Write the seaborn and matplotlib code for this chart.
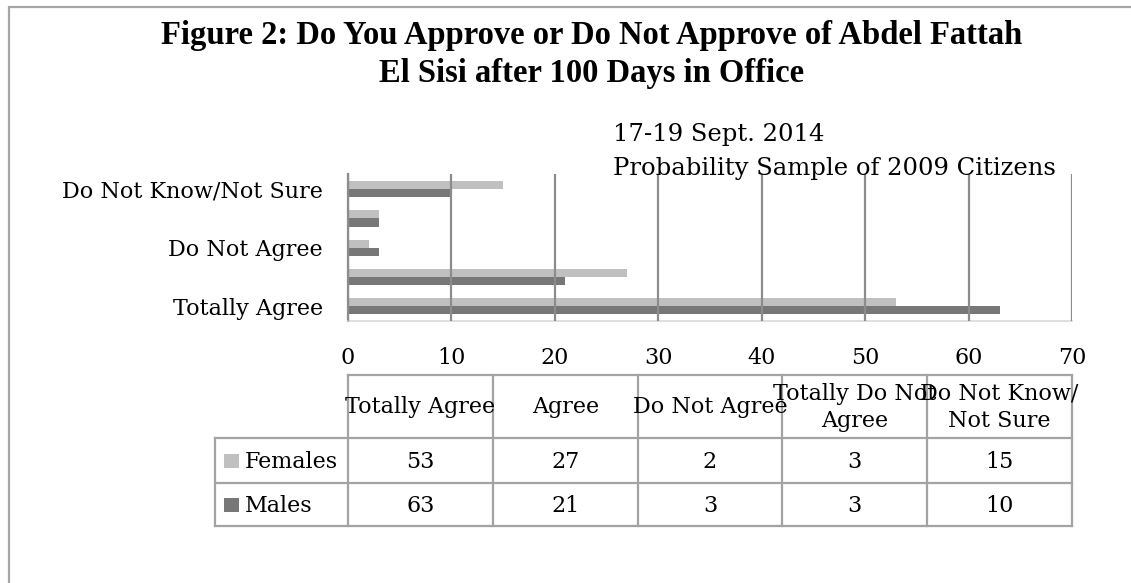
import matplotlib
matplotlib.use("Agg")
import matplotlib.pyplot as plt
import seaborn as sns
import pandas as pd
from matplotlib.lines import Line2D
from matplotlib.patches import Rectangle

# ---------------- data ----------------
categories = ["Totally Agree", "Agree", "Do Not Agree", "Totally Do Not Agree", "Do Not Know/Not Sure"]
header_labels = ["Totally Agree", "Agree", "Do Not Agree", "Totally Do Not\nAgree", "Do Not Know/\nNot Sure"]
series = ["Females", "Males"]
females = [53, 27, 2, 3, 15]
males = [63, 21, 3, 3, 10]
x_ticks = [0, 10, 20, 30, 40, 50, 60, 70]
shown_y_labels = ["Totally Agree", "Do Not Agree", "Do Not Know/Not Sure"]
title_lines = ["Figure 2: Do You Approve or Do Not Approve of Abdel Fattah",
               "El Sisi after 100 Days in Office"]
subtitle_lines = ["17-19 Sept. 2014", "Probability Sample of 2009 Citizens"]
colors = ["#c0c0c0", "#777777"]

# ---------------- style ----------------
sns.set_theme(style="white")
plt.rcParams["font.family"] = ["DejaVu Serif"]
plt.rcParams["text.color"] = "black"
plt.rcParams["xtick.labelcolor"] = "black"
plt.rcParams["ytick.labelcolor"] = "black"
BODY = 16
GRID = "#8c8c8c"
TABLE = "#a3a3a3"

W, H = 1131, 583
fig = plt.figure(figsize=(W / 100, H / 100), dpi=100)
fig.patch.set_facecolor("white")


def fx(px):
    return px / W


def fy(py):
    return 1 - py / H


# plot area geometry (pixels)
PL, PR, PT, PB = 348, 1072, 174.5, 321
ax = fig.add_axes([fx(PL), fy(PB), fx(PR) - fx(PL), fy(PT) - fy(PB)])

df = pd.DataFrame({
    "Response": categories * 2,
    "Gender": [series[0]] * len(categories) + [series[1]] * len(categories),
    "Percent": females + males,
})
order = categories[::-1]
sns.barplot(data=df, x="Percent", y="Response", hue="Gender", order=order,
            hue_order=series, palette=colors, width=0.55, gap=0,
            saturation=1, errorbar=None, linewidth=0, legend=False, ax=ax)

ax.set_xlim(x_ticks[0], x_ticks[-1])
ax.set_xticks(x_ticks)
ax.set_xticklabels([str(t) for t in x_ticks], fontsize=BODY, color="black")
ax.set_yticks(range(len(order)))
ax.set_yticklabels([c if c in shown_y_labels else "" for c in order],
                   fontsize=BODY, color="black")
ax.set_xlabel("")
ax.set_ylabel("")
ax.tick_params(axis="x", length=0, pad=19)
ax.tick_params(axis="y", length=0, pad=18)
ax.grid(axis="x", color=GRID, lw=1.6)
ax.grid(axis="y", visible=False)
ax.set_axisbelow(False)
for side in ["top", "right"]:
    ax.spines[side].set_visible(False)
ax.spines["left"].set_color(GRID)
ax.spines["left"].set_linewidth(1.6)
ax.spines["bottom"].set_color("#d9d9d9")
ax.spines["bottom"].set_linewidth(1.2)
ax.set_facecolor("none")

# ---------------- data table ----------------
TL, TT, TH1, TH2, TB = 215, 375, 438, 483, 526
tax = fig.add_axes([fx(TL), fy(TB), fx(PR) - fx(TL), fy(TT) - fy(TB)])
tax.set_xlim(TL, PR)
tax.set_ylim(TB, TT)
tax.axis("off")
ncol = len(categories)
cw = (PR - PL) / ncol
edges = [PL + i * cw for i in range(ncol + 1)]
lk = dict(color=TABLE, lw=1.6, solid_capstyle="projecting", clip_on=False)
tax.plot([PL, PR], [TT, TT], **lk)
for yy in (TH1, TH2, TB):
    tax.plot([TL, PR], [yy, yy], **lk)
tax.plot([TL, TL], [TH1, TB], **lk)
for e in edges:
    tax.plot([e, e], [TT, TB], **lk)

for i, lab in enumerate(header_labels):
    tax.text(edges[i] + cw / 2, (TT + TH1) / 2 + 1, lab, ha="center", va="center",
             fontsize=BODY, linespacing=1.35, color="black")

rows = [(series[0], females, colors[0], (TH1 + TH2) / 2),
        (series[1], males, colors[1], (TH2 + TB) / 2)]
for name, vals, col, yc in rows:
    tax.add_patch(Rectangle((224, yc - 7), 15, 14, facecolor=col, edgecolor="none"))
    tax.text(245, yc + 1, name, ha="left", va="center", fontsize=BODY, color="black")
    for i, v in enumerate(vals):
        tax.text(edges[i] + cw / 2, yc + 1, str(v), ha="center", va="center",
                 fontsize=BODY, color="black")

# ---------------- titles ----------------
fig.text(fx(592), fy(44), title_lines[0], ha="center", va="baseline", color="black",
         fontsize=23.5, fontweight="bold", family=["Liberation Serif"])
fig.text(fx(592), fy(82), title_lines[1], ha="center", va="baseline", color="black",
         fontsize=23.5, fontweight="bold", family=["Liberation Serif"])
fig.text(fx(613), fy(135), subtitle_lines[0], ha="left", va="center",
         fontsize=17.5, color="black")
fig.text(fx(613), fy(168), subtitle_lines[1], ha="left", va="center",
         fontsize=17.5, color="black")

# ---------------- outer frame ----------------
fig.add_artist(Line2D([fx(9), fx(9)], [fy(7), 0], color="#a6a6a6", lw=1.6))
fig.add_artist(Line2D([fx(9), 1], [fy(7), fy(7)], color="#a6a6a6", lw=1.6))

fig.savefig("out.png", dpi=100, facecolor="white")
